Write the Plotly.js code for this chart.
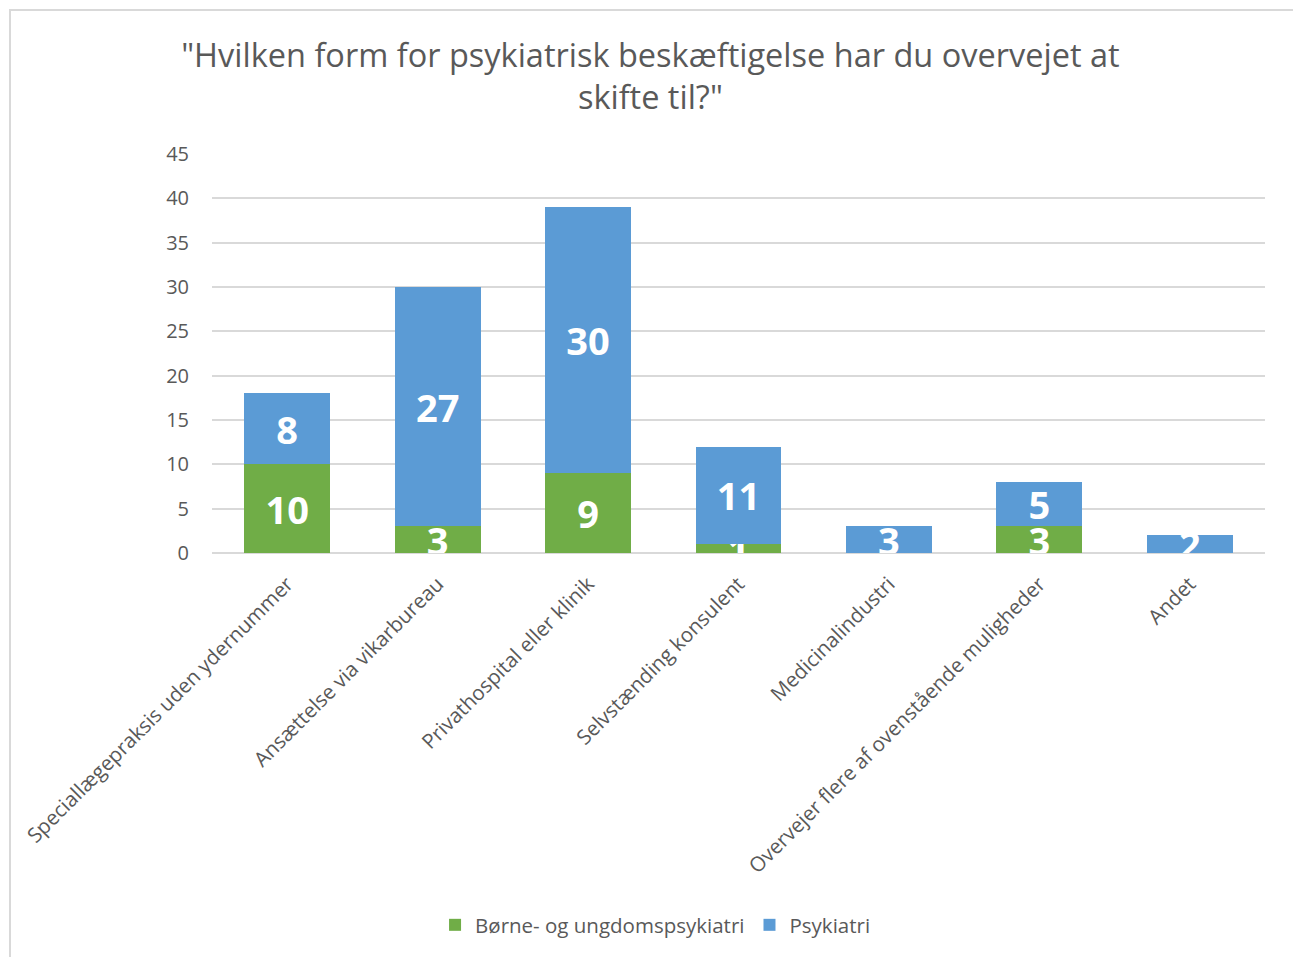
<!DOCTYPE html>
<html>
<head>
<meta charset="utf-8">
<script src="https://cdn.plot.ly/plotly-3.0.1.min.js"></script>
<style>
  html, body { margin: 0; padding: 0; background: #fff; }
  #frame { position: absolute; left: 9px; top: 9px; width: 1300px; height: 960px; border-top: 2px solid #d9d9d9; border-left: 2px solid #d9d9d9; box-sizing: border-box; pointer-events: none; z-index: 10; }
  #chart { position: absolute; left: 0; top: 0; width: 1293px; height: 957px; }
</style>
</head>
<body>
<div id="chart"></div>
<div id="frame"></div>
<script>
const categories = [
  "Speciallægepraksis uden ydernummer",
  "Ansættelse via vikarbureau",
  "Privathospital eller klinik",
  "Selvstænding konsulent",
  "Medicinalindustri",
  "Overvejer flere af ovenstående muligheder",
  "Andet"
];
const borneValues = [10, 3, 9, 1, null, 3, null];
const psykValues  = [8, 27, 30, 11, 3, 5, 2];
const seriesNames = ["Børne- og ungdomspsykiatri", "Psykiatri"];
const yTicks = [0, 5, 10, 15, 20, 25, 30, 35, 40, 45];

const labelFont = { family: "Open Sans, sans-serif", size: 38, color: "#ffffff", weight: "bold" };

const common = {
  type: "bar",
  x: categories,
  textposition: "inside",
  insidetextanchor: "middle",
  constraintext: "none",
  textangle: 0,
  cliponaxis: true,
  textfont: labelFont,
  hoverinfo: "x+y+name"
};

const traces = [
  Object.assign({}, common, {
    name: seriesNames[0],
    y: borneValues,
    text: borneValues.map(v => v == null ? "" : String(v)),
    marker: { color: "#70ad47" }
  }),
  Object.assign({}, common, {
    name: seriesNames[1],
    y: psykValues,
    text: psykValues.map(v => v == null ? "" : String(v)),
    marker: { color: "#5b9bd5" }
  })
];

const layout = {
  width: 1293,
  height: 957,
  barmode: "stack",
  bargap: 0.43,
  paper_bgcolor: "#ffffff",
  plot_bgcolor: "#ffffff",
  font: { family: "Open Sans, sans-serif", color: "#595959" },
  margin: { l: 212, r: 28, t: 154, b: 404 },
  title: {
    text: "\"Hvilken form for psykiatrisk beskæftigelse har du overvejet at<br>skifte til?\"",
    font: { family: "Open Sans, sans-serif", size: 32.5, color: "#595959" },
    x: 0.503, xref: "container", xanchor: "center",
    y: 1 - 67 / 957, yref: "container", yanchor: "middle"
  },
  xaxis: {
    type: "category",
    tickangle: -45,
    tickfont: { size: 20.5, color: "#595959" },
    showgrid: false,
    showline: false,
    ticks: "",
    ticklabelstandoff: 14,
    automargin: false
  },
  yaxis: {
    range: [0, 45],
    tickvals: yTicks,
    ticktext: yTicks.map(String),
    tickfont: { size: 20, color: "#595959" },
    showgrid: true,
    gridcolor: "#d9d9d9",
    gridwidth: 1.5,
    zeroline: true,
    zerolinecolor: "#d9d9d9",
    zerolinewidth: 1.5,
    showline: false,
    ticks: "",
    ticklabelstandoff: 22,
    automargin: false
  },
  showlegend: true,
  legend: {
    orientation: "h",
    xref: "container", yref: "container",
    x: 0.507, xanchor: "center",
    y: 1 - 925 / 957, yanchor: "middle",
    font: { size: 20.5, color: "#595959" },
    itemwidth: 30,
    traceorder: "normal"
  }
};

Plotly.newPlot("chart", traces, layout, { displayModeBar: false, responsive: false });
</script>
</body>
</html>
